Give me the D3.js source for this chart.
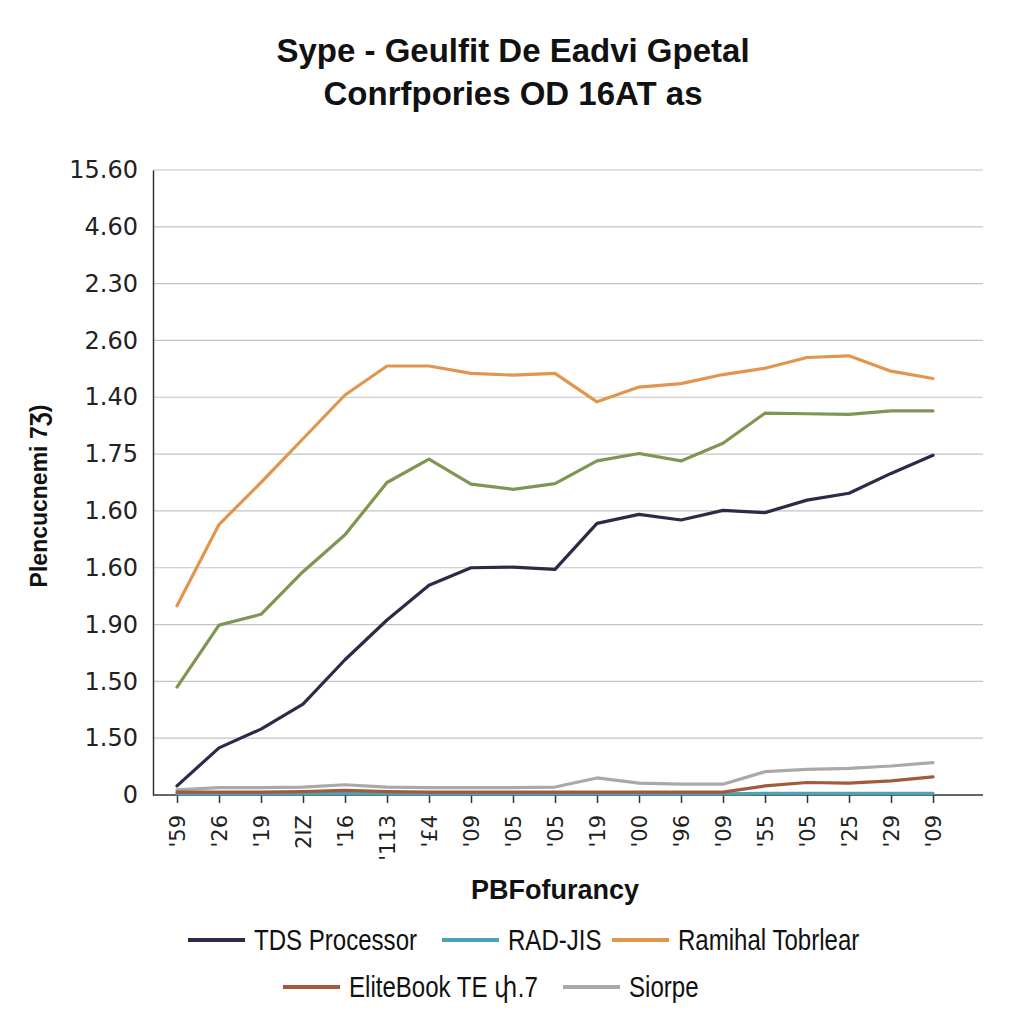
<!DOCTYPE html>
<html>
<head>
<meta charset="utf-8">
<script src="https://cdn.jsdelivr.net/npm/d3@7"></script>
<style>
	body { margin: 0; background: #fff; }
	svg { display: block; }
</style>
</head>
<body>
<svg id="chart" width="1024" height="1024"></svg>
<script>
// chart data (values in grid steps)
var categories = ["'59", "'26", "'19", "2IZ", "'16", "'113", "'£4", "'09", "'05", "'05", "'19", "'00", "'96", "'09", "'55", "'05", "'25", "'29", "'09"];
var yTickLabels = ['0', '1.50', '1.50', '1.90', '1.60', '1.60', '1.75', '1.40', '2.60', '2.30', '4.60', '15.60'];

var tdsProcessor = [0.16, 0.83, 1.16, 1.60, 2.38, 3.08, 3.69, 4.00, 4.01, 3.97, 4.78, 4.94, 4.84, 5.01, 4.97, 5.19, 5.31, 5.66, 5.98];
var radJis = [0.02, 0.02, 0.02, 0.02, 0.03, 0.02, 0.02, 0.02, 0.02, 0.02, 0.02, 0.02, 0.02, 0.02, 0.03, 0.03, 0.03, 0.03, 0.03];
var ramihalTobrlear = [3.33, 4.76, 5.50, 6.27, 7.04, 7.55, 7.55, 7.42, 7.39, 7.42, 6.92, 7.18, 7.24, 7.40, 7.51, 7.70, 7.73, 7.46, 7.33];
var eliteBook = [0.05, 0.05, 0.05, 0.06, 0.08, 0.06, 0.05, 0.05, 0.05, 0.05, 0.05, 0.05, 0.05, 0.05, 0.16, 0.22, 0.21, 0.25, 0.32];
var siorpe = [0.09, 0.13, 0.13, 0.14, 0.18, 0.14, 0.13, 0.13, 0.13, 0.14, 0.30, 0.21, 0.19, 0.19, 0.41, 0.45, 0.47, 0.51, 0.57];
var unlabelled = [1.90, 2.99, 3.18, 3.93, 4.58, 5.50, 5.91, 5.47, 5.38, 5.48, 5.88, 6.01, 5.88, 6.19, 6.72, 6.71, 6.70, 6.76, 6.76];

var legendNames = ['TDS Processor', 'RAD-JIS', 'Ramihal Tobrlear', 'EliteBook TE փ.7', 'Siorpe'];
var legendColors = ['#2b2b48', '#4aa3b8', '#e0964c', '#a25a3c', '#a9a9a9'];

var titleLines = ['Sype - Geulfit De Eadvi Gpetal', 'Conrfpories OD 16AT as'];
var xTitle = 'PBFofurancy';
var yTitle = 'Plencucnemi 7Ʒ)';

var width = 1024, height = 1024;
var margin = { left: 153, right: 41, top: 170, bottom: 229 };

var svg = d3.select('#chart');

var x = d3.scalePoint()
	.domain(d3.range(categories.length))
	.range([177, 933]);

var y = d3.scaleLinear()
	.domain([0, yTickLabels.length - 1])
	.range([height - margin.bottom, margin.top]);

var sansFont = '"Liberation Sans", Arial, sans-serif';

// title
svg.append('g')
	.selectAll('text').data(titleLines).enter().append('text')
		.attr('x', 513)
		.attr('y', function(d, i) { return 62 + i * 43; })
		.attr('text-anchor', 'middle')
		.style('font-family', sansFont)
		.style('font-weight', 'bold')
		.style('font-size', '33px')
		.attr('fill', '#111')
		.text(function(d) { return d; });

// grid
svg.append('g')
	.selectAll('line').data(d3.range(1, yTickLabels.length)).enter().append('line')
		.attr('x1', margin.left)
		.attr('x2', width - margin.right)
		.attr('y1', function(d) { return y(d); })
		.attr('y2', function(d) { return y(d); })
		.attr('stroke', '#c4c4c4')
		.attr('stroke-width', 1.2);

// y axis
var yAxis = svg.append('g')
	.attr('transform', 'translate(' + margin.left + ',0)')
	.call(d3.axisLeft(y)
		.tickValues(d3.range(yTickLabels.length))
		.tickFormat(function(d) { return yTickLabels[d]; })
		.tickSize(0)
		.tickPadding(15));
yAxis.select('.domain').attr('stroke', '#333').attr('stroke-width', 1.5);
yAxis.selectAll('text')
	.style('font-family', '"DejaVu Sans", sans-serif')
	.style('font-size', '24px')
	.attr('fill', '#222');

// x axis
var xAxis = svg.append('g')
	.attr('transform', 'translate(0,' + y(0) + ')')
	.call(d3.axisBottom(x)
		.tickFormat(function(d) { return categories[d]; })
		.tickSize(8)
		.tickSizeOuter(0));
xAxis.select('.domain')
	.attr('d', 'M' + margin.left + ',0H' + (width - margin.right))
	.attr('stroke', '#333').attr('stroke-width', 1.5);
xAxis.selectAll('.tick line').attr('stroke', '#333').attr('stroke-width', 1.5);
xAxis.selectAll('text')
	.attr('transform', 'rotate(-90)')
	.attr('x', -20)
	.attr('y', 0)
	.attr('dy', '0.35em')
	.attr('text-anchor', 'end')
	.style('font-family', '"DejaVu Sans", sans-serif')
	.style('font-size', '21px')
	.attr('fill', '#222');

// axis titles
svg.append('text')
	.attr('x', 555)
	.attr('y', 899)
	.attr('text-anchor', 'middle')
	.style('font-family', sansFont)
	.style('font-weight', 'bold')
	.style('font-size', '27px')
	.attr('fill', '#111')
	.text(xTitle);

svg.append('text')
	.attr('transform', 'translate(47,496) rotate(-90)')
	.attr('text-anchor', 'middle')
	.style('font-family', sansFont)
	.style('font-weight', 'bold')
	.style('font-size', '23px')
	.attr('fill', '#111')
	.text(yTitle);

// lines
var line = d3.line()
	.x(function(d, i) { return x(i); })
	.y(function(d) { return y(d); });

var series = [
	{ values: radJis, color: legendColors[1] },
	{ values: siorpe, color: legendColors[4] },
	{ values: eliteBook, color: legendColors[3] },
	{ values: tdsProcessor, color: legendColors[0] },
	{ values: unlabelled, color: '#7f9652' },
	{ values: ramihalTobrlear, color: legendColors[2] }
];

svg.append('g')
	.selectAll('path').data(series).enter().append('path')
		.attr('d', function(d) { return line(d.values); })
		.attr('fill', 'none')
		.attr('stroke', function(d) { return d.color; })
		.attr('stroke-width', 3.2)
		.attr('stroke-linejoin', 'round')
		.attr('stroke-linecap', 'round');

// legend (narrow font isn't installed, so squeeze the regular one)
var legendPos = [[188, 940], [442, 940], [612, 940], [283, 987], [563, 987]];

var legend = svg.append('g').selectAll('g').data(legendNames).enter().append('g')
	.attr('transform', function(d, i) { return 'translate(' + legendPos[i][0] + ',' + legendPos[i][1] + ')'; });

legend.append('line')
	.attr('x1', 0).attr('x2', 57)
	.attr('stroke', function(d, i) { return legendColors[i]; })
	.attr('stroke-width', 4);

legend.append('text')
	.attr('transform', 'translate(66,0) scale(0.83,1)')
	.attr('dy', '0.35em')
	.style('font-family', sansFont)
	.style('font-size', '29px')
	.attr('fill', '#111')
	.text(function(d) { return d; });
</script>
</body>
</html>
